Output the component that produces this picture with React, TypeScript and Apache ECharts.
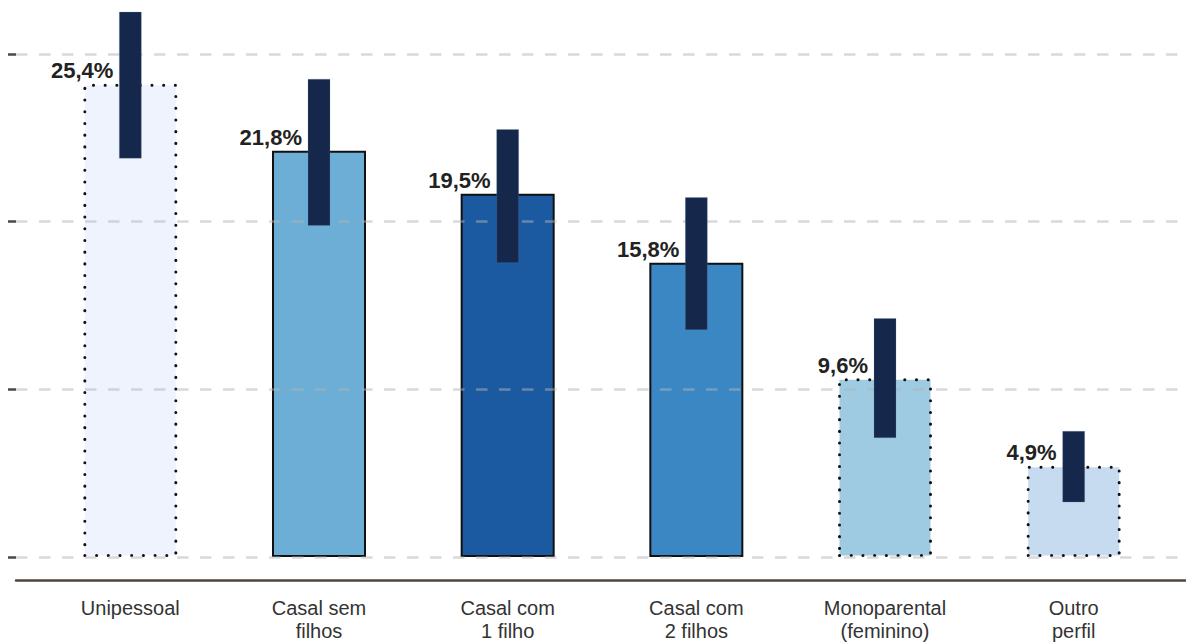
import React, { useEffect, useRef } from "react";
import * as echarts from "echarts";

const categories = [
  "Unipessoal",
  "Casal sem\nfilhos",
  "Casal com\n1 filho",
  "Casal com\n2 filhos",
  "Monoparental\n(feminino)",
  "Outro\nperfil",
];
const shares = [25.4, 21.8, 19.5, 15.8, 9.6, 4.9];
const rangeLow = [21.4, 17.8, 15.8, 12.2, 6.4, 2.95];
const rangeHigh = [29.25, 25.65, 22.95, 19.3, 12.8, 6.75];
const barColors = ["#eef3fd", "#6caed6", "#1b5aa0", "#3b87c3", "#9ecae2", "#c6dbef"];
const dottedBorder = [true, false, false, false, true, true];
const yTicks = [0, 9, 18, 27];

export default function App() {
  const ref = useRef<HTMLDivElement>(null);
  useEffect(() => {
    if (!ref.current) return;
    const chart = echarts.init(ref.current, undefined, { renderer: "svg" });
    const yMin = yTicks[0];
    const yMax = yTicks[yTicks.length - 1];
    const yInterval = yTicks[1] - yTicks[0];
    const font = "'Liberation Sans', Arial, Helvetica, sans-serif";

    const barData = shares.map((v, i) => ({
      value: v,
      itemStyle: {
        color: barColors[i],
        borderColor: "#111",
        borderWidth: dottedBorder[i] ? 3 : 2,
        borderType: dottedBorder[i] ? [0.1, 11.6] : "solid",
        borderCap: dottedBorder[i] ? "round" : "butt",
      },
    }));
    const rangeData = categories.map((_, i) => [i, rangeLow[i], rangeHigh[i]]);

    chart.setOption({
      animation: false,
      grid: [
        { left: 36, right: 18, top: 54, bottom: 87 },
        { left: 16, right: 0, top: 54, bottom: 87 },
      ],
      xAxis: [
        {
          type: "category",
          gridIndex: 0,
          data: categories,
          offset: 23,
          axisLine: { show: false, onZero: false },
          axisTick: { show: false },
          axisLabel: {
            color: "#333",
            fontSize: 20,
            fontFamily: font,
            lineHeight: 23,
            margin: 16,
            interval: 0,
          },
        },
        {
          type: "value",
          gridIndex: 1,
          min: 0,
          max: 1,
          offset: 23,
          axisLine: { show: true, onZero: false, lineStyle: { color: "#4d463f", width: 2.5 } },
          axisTick: { show: false },
          axisLabel: { show: false },
          splitLine: { show: false },
        },
      ],
      yAxis: [
        {
          type: "value",
          gridIndex: 0,
          min: yMin,
          max: yMax,
          interval: yInterval,
          axisLine: { show: false },
          axisTick: { show: false },
          axisLabel: { show: false },
          splitLine: { show: false },
        },
        {
          type: "value",
          gridIndex: 1,
          min: yMin,
          max: yMax,
          interval: yInterval,
          z: 3,
          axisLine: { show: false },
          axisTick: { show: true, length: 8, lineStyle: { color: "#4d463f", width: 2.5 } },
          axisLabel: { show: false },
          splitLine: {
            show: true,
            lineStyle: { color: "rgba(180,180,180,0.5)", width: 2.5, type: [11.5, 11.5] },
          },
        },
      ],
      series: [
        {
          type: "bar",
          xAxisIndex: 0,
          yAxisIndex: 0,
          data: barData,
          barWidth: 94,
          z: 2,
          label: {
            show: true,
            position: [30, -2],
            align: "right",
            verticalAlign: "bottom",
            color: "#222",
            fontSize: 22,
            fontWeight: "bold",
            fontFamily: font,
            formatter: (p: any) => String(p.value).replace(".", ",") + "%",
          },
        },
        {
          type: "custom",
          xAxisIndex: 0,
          yAxisIndex: 0,
          z: 5,
          clip: false,
          data: rangeData,
          encode: { x: 0, y: [1, 2] },
          renderItem: (params: any, api: any) => {
            const x = api.value(0);
            const lo = api.coord([x, api.value(1)]);
            const hi = api.coord([x, api.value(2)]);
            const w = 22;
            return {
              type: "rect",
              shape: { x: lo[0] - w / 2, y: hi[1], width: w, height: lo[1] - hi[1] },
              style: { fill: "#15284b", stroke: "rgba(120,140,170,0.4)", lineWidth: 0.6 },
            };
          },
        },
      ],
    });
    return () => chart.dispose();
  }, []);
  return (
    <div
      ref={ref}
      style={{ position: "fixed", left: 0, top: 0, width: 1186, height: 644, background: "#fff" }}
    />
  );
}
